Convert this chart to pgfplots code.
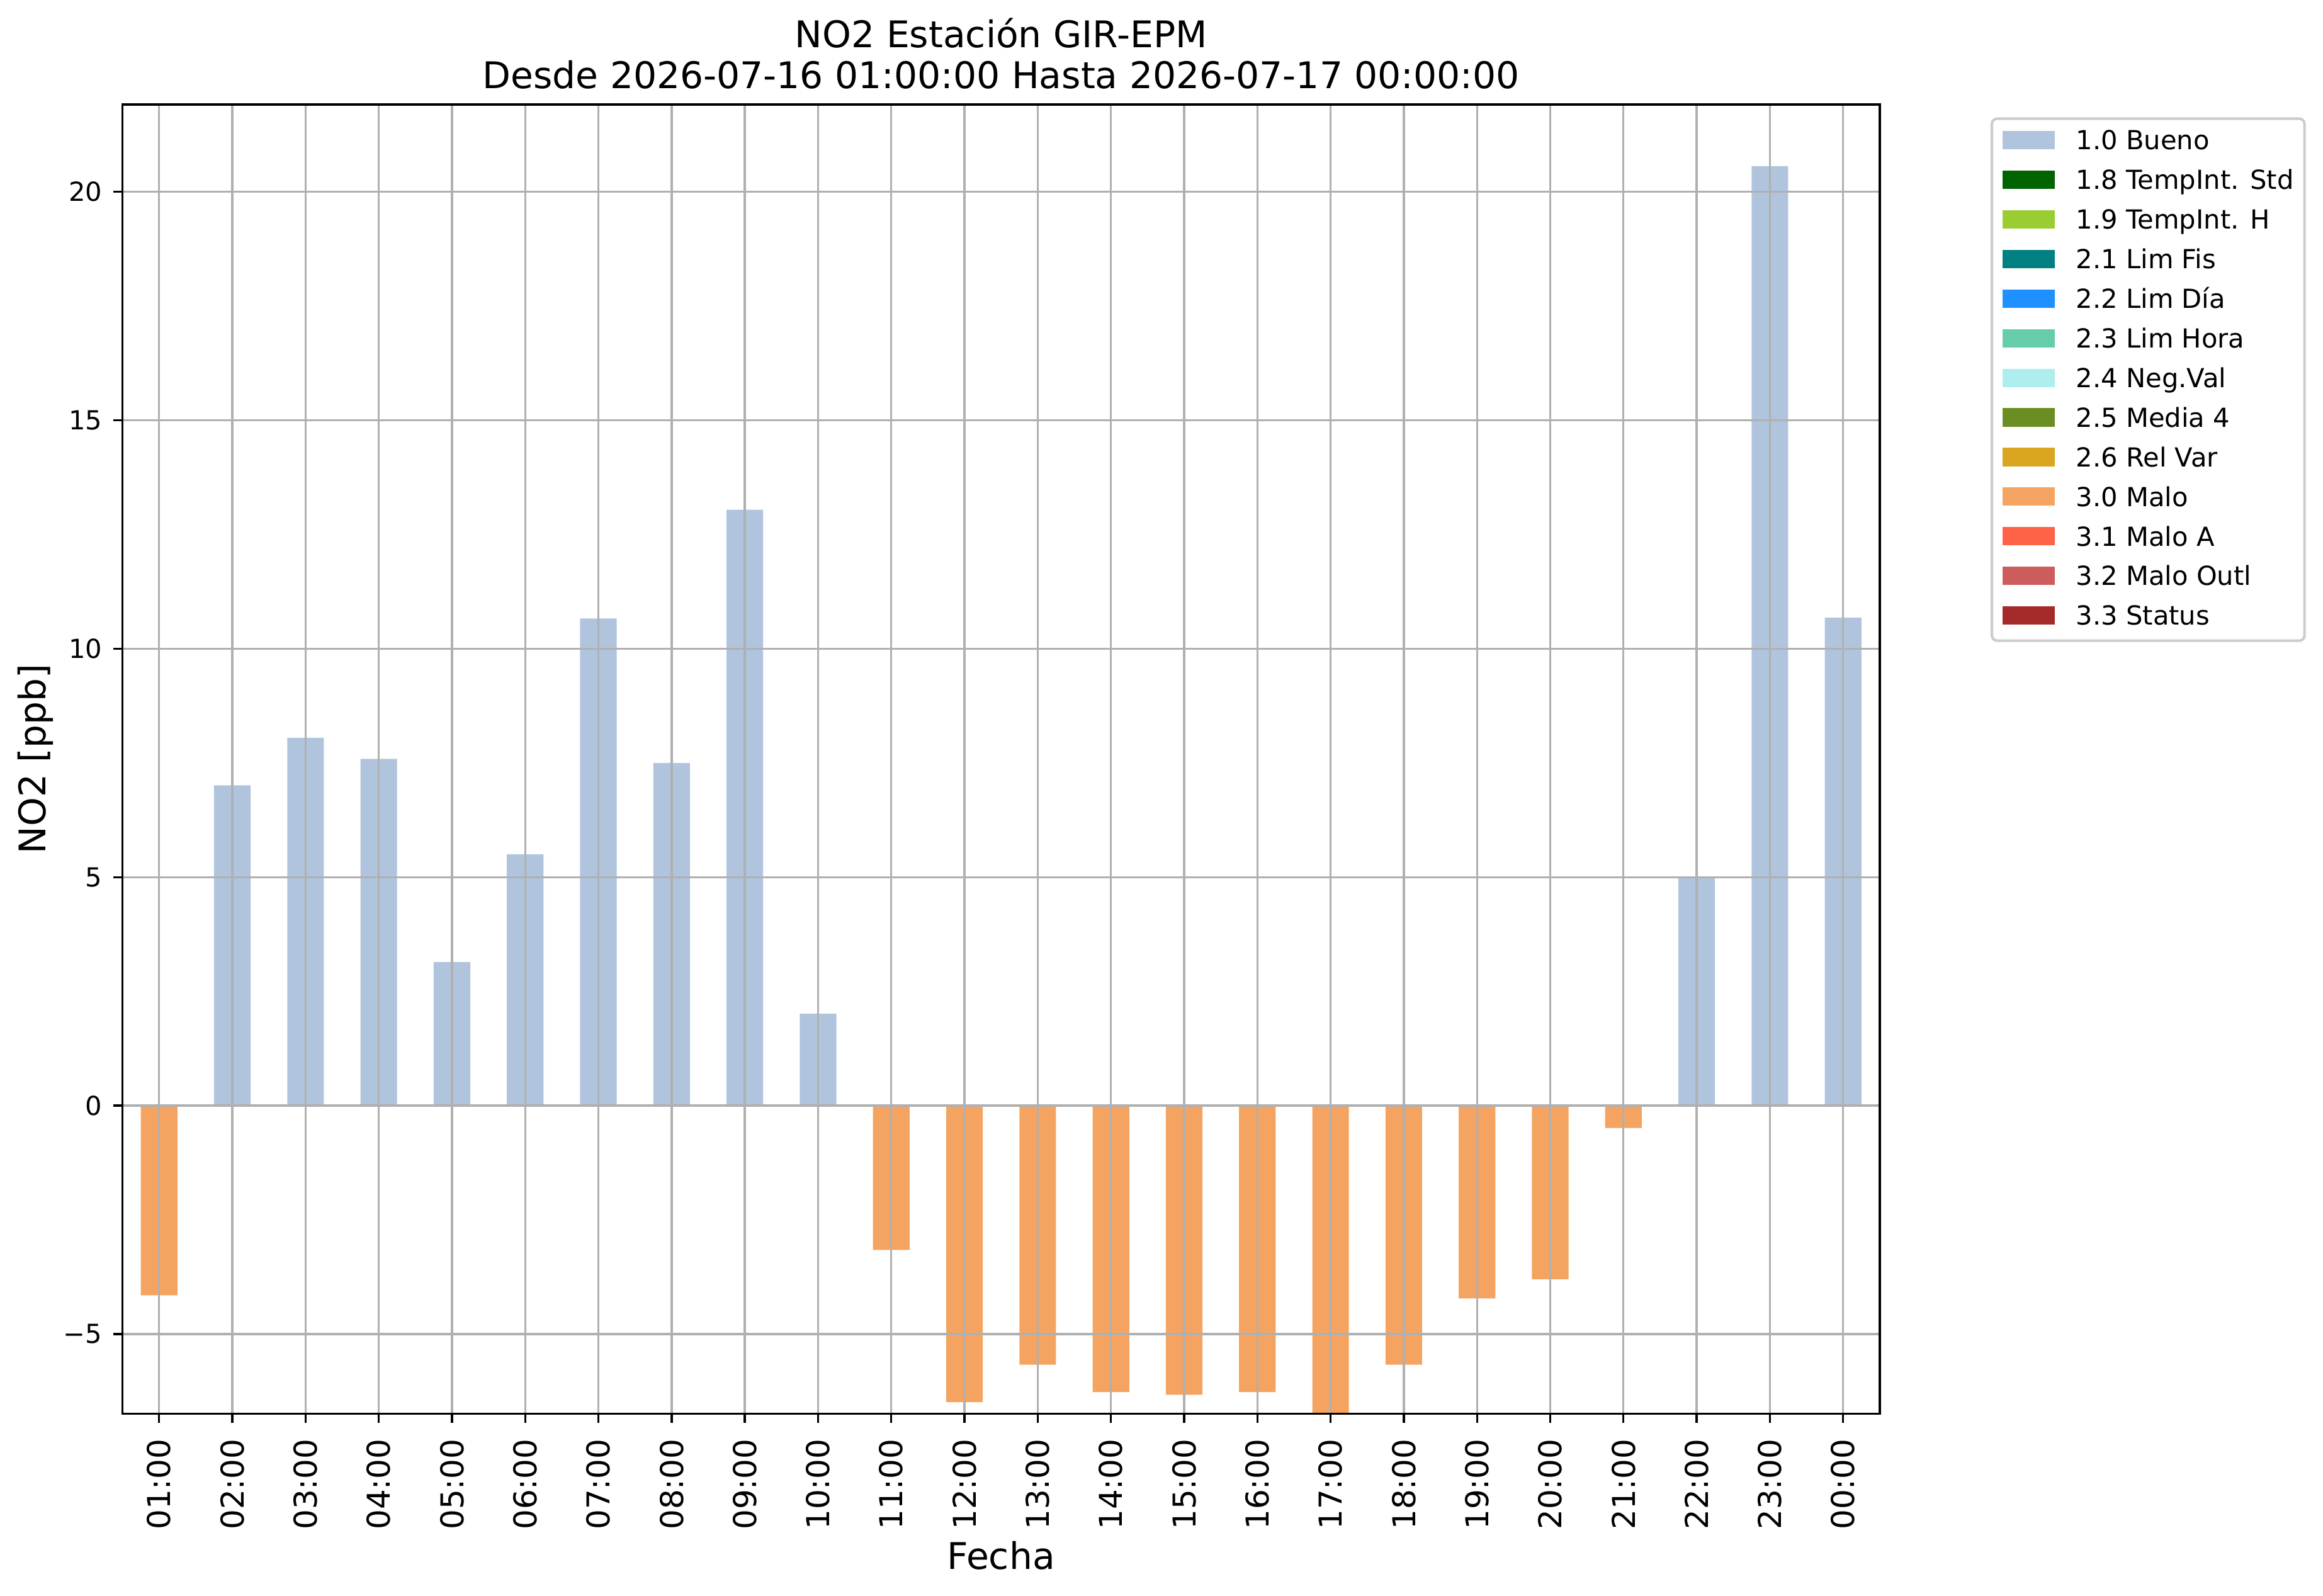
\documentclass[border=0pt]{standalone}
\usepackage{fontspec}
\setmainfont{DejaVu Sans}
\usepackage{pgfplots}
\pgfplotsset{compat=1.18}
\definecolor{bueno}{HTML}{B0C4DE}
\definecolor{tstd}{HTML}{006400}
\definecolor{th}{HTML}{9ACD32}
\definecolor{limfis}{HTML}{008080}
\definecolor{limdia}{HTML}{1E90FF}
\definecolor{limhora}{HTML}{66CDAA}
\definecolor{negval}{HTML}{AFEEEE}
\definecolor{media}{HTML}{6B8E23}
\definecolor{relvar}{HTML}{DAA520}
\definecolor{malo}{HTML}{F4A460}
\definecolor{maloa}{HTML}{FF6347}
\definecolor{maloout}{HTML}{CD5C5C}
\definecolor{status}{HTML}{A52A2A}
\definecolor{gridgray}{HTML}{B0B0B0}
\begin{document}
\begin{tikzpicture}
\useasboundingbox (-46.70pt,-69.31pt) rectangle (838.90pt,538.85pt);
\begin{axis}[name=ax,
  at={(0pt,0pt)}, anchor=south west,
  scale only axis, width=669.9pt, height=499.0pt,
  xmin=-0.5, xmax=23.5, ymin=-6.74, ymax=21.91,
  axis on top,
  axis line style={black, line width=0.8pt},
  tick style={black, line width=0.8pt},
  tick align=outside, major tick length=3.5pt,
  xtick pos=lower, ytick pos=left,
  grid=major,
  major grid style={gridgray, line width=0.8pt},
  xtick={0,...,23},
  xticklabels={01:00,02:00,03:00,04:00,05:00,06:00,07:00,08:00,09:00,10:00,11:00,12:00,13:00,14:00,15:00,16:00,17:00,18:00,19:00,20:00,21:00,22:00,23:00,00:00},
  xticklabel style={font=\fontsize{12}{14}\selectfont, rotate=90, anchor=east, inner sep=0pt},
  xticklabel shift=6pt,
  ytick={-5,0,5,10,15,20},
  yticklabels={−5,0,5,10,15,20},
  yticklabel style={font=\fontsize{10}{12}\selectfont, anchor=east, inner sep=0pt},
  yticklabel shift=4.1pt,
  legend image code/.code={\fill[#1, draw=none, sharp corners] (0pt,-2.8pt) rectangle (20pt,4.2pt);},
  legend cell align=left,
  legend style={at={(1.0631,0.9902)}, anchor=north west,
    draw=black!20, line width=1pt, rounded corners=2pt,
    font=\fontsize{10}{12}\selectfont,
    inner xsep=4.1pt, inner ysep=4.55pt,
    row sep=6.4pt, column sep=8.0pt,
    nodes={inner sep=0pt, text height=7.3pt, text depth=1.4pt}},
]
\addplot[ybar, bar width=0.5, bar shift=0pt, fill=bueno, draw=none, forget plot] coordinates {
(1,7.01) (2,8.05) (3,7.59) (4,3.14) (5,5.50) (6,10.66) (7,7.50) (8,13.04) (9,2.01)
(21,4.99) (22,20.56) (23,10.68)};
\addplot[ybar, bar width=0.5, bar shift=0pt, fill=malo, draw=none, forget plot] coordinates {
(0,-4.15) (10,-3.16) (11,-6.49) (12,-5.67) (13,-6.27) (14,-6.33) (15,-6.27) (16,-6.74)
(17,-5.67) (18,-4.22) (19,-3.80) (20,-0.49)};
\addlegendimage{fill=bueno}\addlegendentry{1.0 Bueno}
\addlegendimage{fill=tstd}\addlegendentry{1.8 TempInt. Std}
\addlegendimage{fill=th}\addlegendentry{1.9 TempInt. H}
\addlegendimage{fill=limfis}\addlegendentry{2.1 Lim Fis}
\addlegendimage{fill=limdia}\addlegendentry{2.2 Lim Día}
\addlegendimage{fill=limhora}\addlegendentry{2.3 Lim Hora}
\addlegendimage{fill=negval}\addlegendentry{2.4 Neg.Val}
\addlegendimage{fill=media}\addlegendentry{2.5 Media 4}
\addlegendimage{fill=relvar}\addlegendentry{2.6 Rel Var}
\addlegendimage{fill=malo}\addlegendentry{3.0 Malo}
\addlegendimage{fill=maloa}\addlegendentry{3.1 Malo A}
\addlegendimage{fill=maloout}\addlegendentry{3.2 Malo Outl}
\addlegendimage{fill=status}\addlegendentry{3.3 Status}
\end{axis}
\node[anchor=base, font=\fontsize{14}{16}\selectfont, inner sep=0pt] at ([yshift=21.8pt]ax.north) {NO2 Estación GIR-EPM};
\node[anchor=base, font=\fontsize{14}{16}\selectfont, inner sep=0pt] at ([yshift=6.2pt]ax.north) {Desde 2026-07-16 01:00:00 Hasta 2026-07-17 00:00:00};
\node[anchor=base, font=\fontsize{14}{16}\selectfont, inner sep=0pt] at ([yshift=-59.4pt]ax.south) {Fecha};
\node[anchor=base, rotate=90, font=\fontsize{14}{16}\selectfont, inner sep=0pt] at ([xshift=-29.2pt]ax.west) {NO2 [ppb]};
\end{tikzpicture}
\end{document}
